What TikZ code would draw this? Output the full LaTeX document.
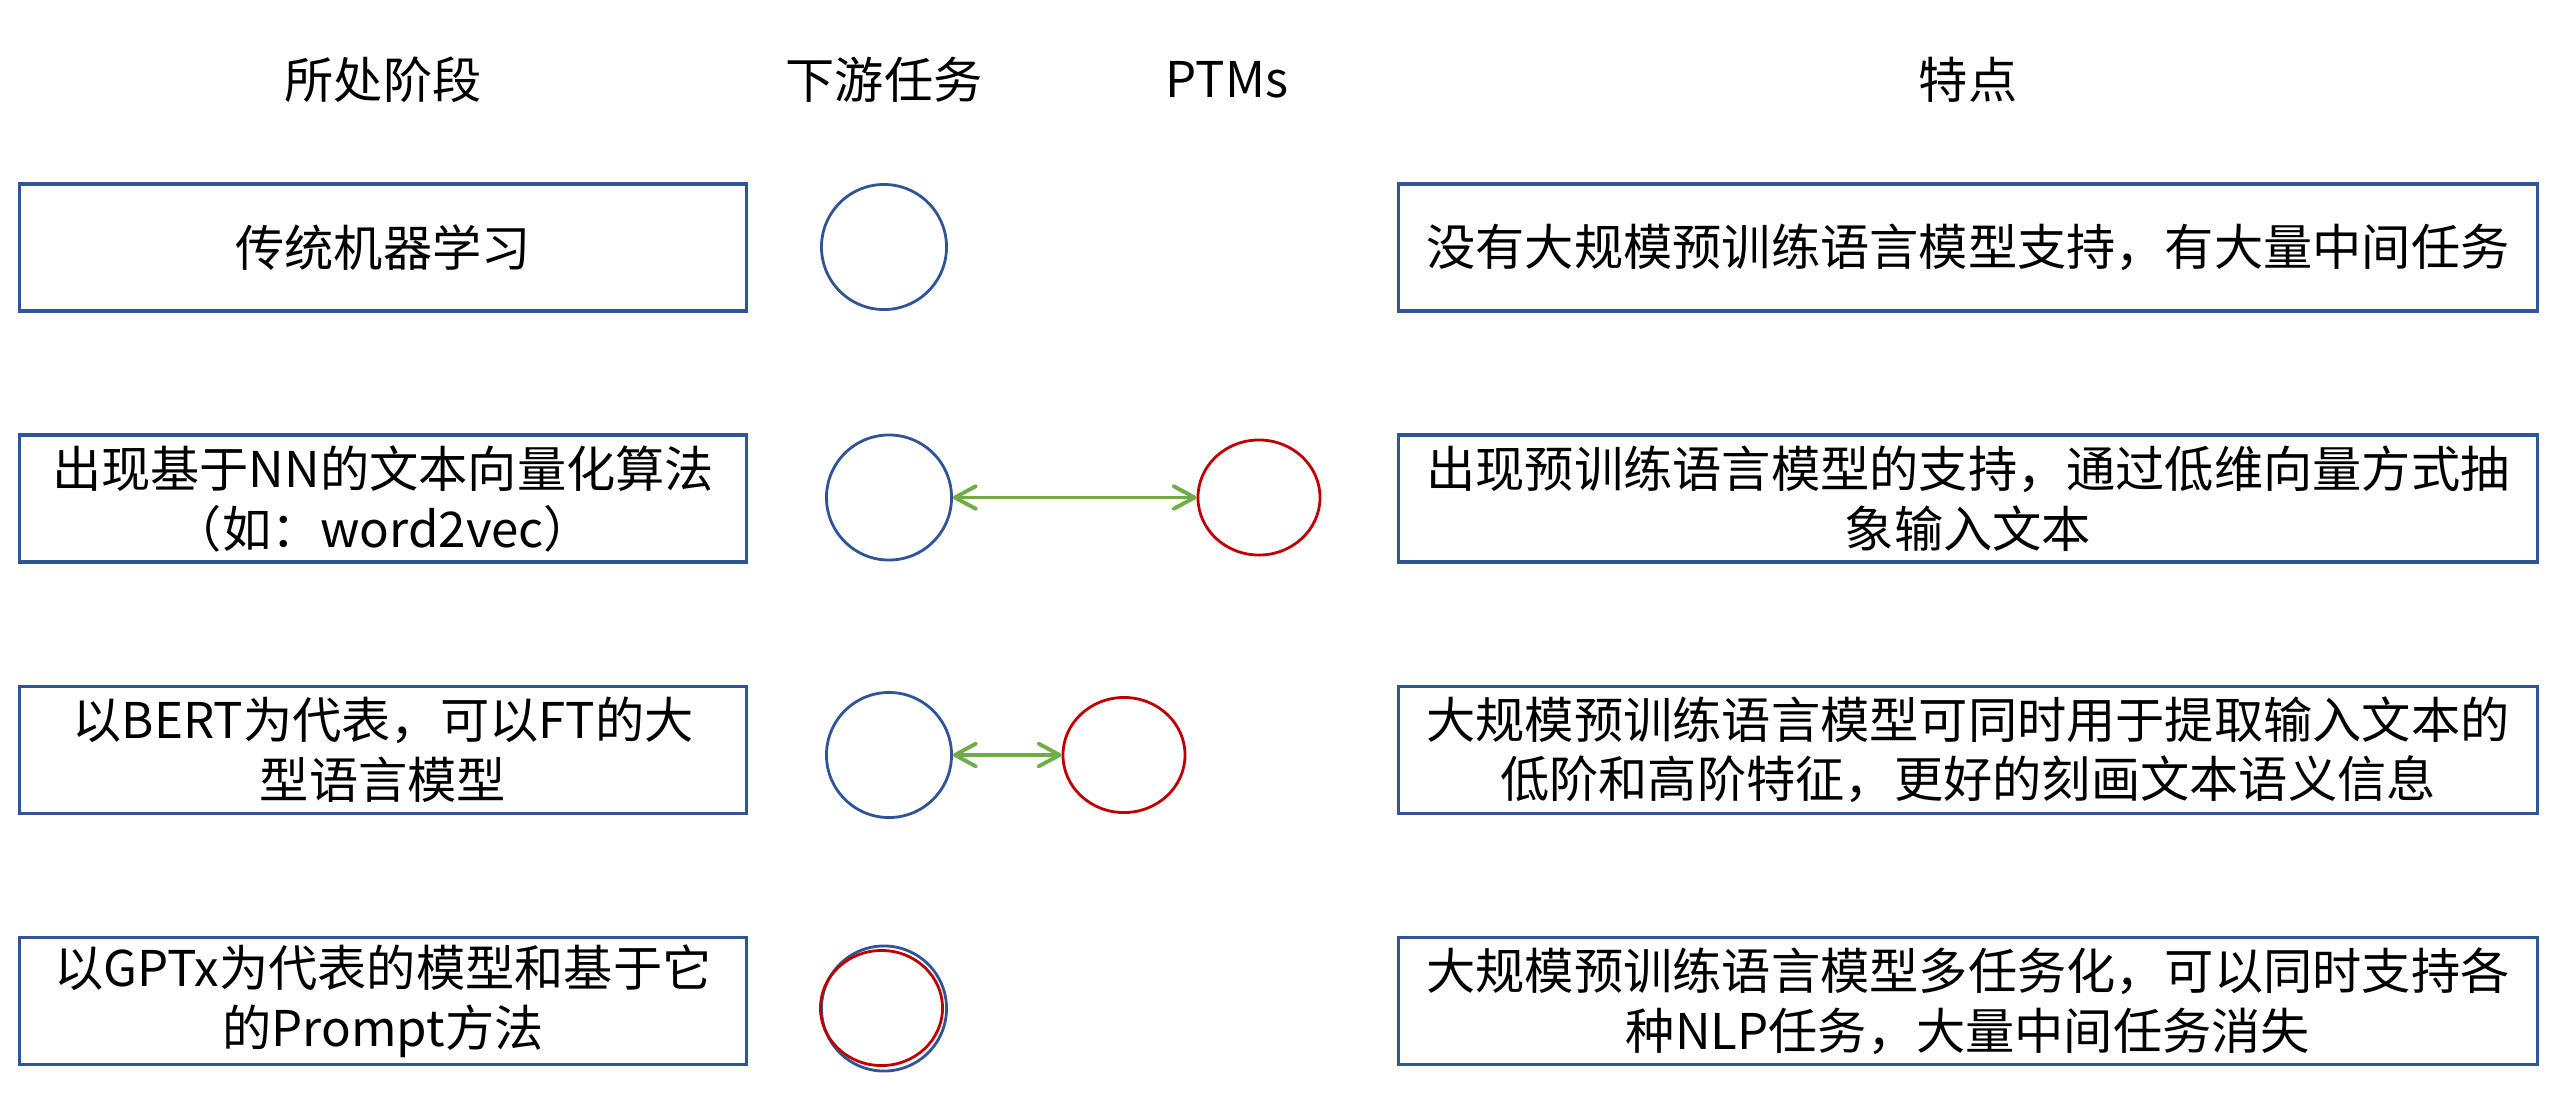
\documentclass[tikz,border=0pt]{standalone}
\usepackage{fontspec}
\setmainfont{Noto Sans CJK SC}
\usetikzlibrary{shapes.geometric, arrows.meta, positioning}
\definecolor{stageblue}{HTML}{2F5597}
\definecolor{ptmred}{HTML}{C00000}
\definecolor{linkgreen}{HTML}{70AD47}

\begin{document}
\begin{tikzpicture}[x=0.01cm, y=-0.01cm, node distance=2.51cm,
  every node/.style={font=\fontsize{14pt}{17pt}\selectfont},
  stagebox/.style={draw=stageblue, line width=1pt, minimum width=7.27cm, minimum height=1.27cm, align=center, inner sep=0pt},
  featbox/.style={stagebox, minimum width=11.38cm},
  task/.style={draw=stageblue, line width=0.8pt, circle, minimum size=1.25cm, inner sep=0pt},
  ptm/.style={draw=ptmred, line width=0.8pt, ellipse, minimum width=1.22cm, minimum height=1.15cm, inner sep=0pt},
  link/.style={linkgreen, line width=1.1pt, {Straight Barb[length=6pt,width=6.5pt,round]}-{Straight Barb[length=6pt,width=6.5pt,round]}}]
  \useasboundingbox (0,0) rectangle (2556,1096);

  % column heads
  \node (hstage) at (383,80) {所处阶段};
  \node (htask) at (884,80) {下游任务};
  \node (hptm) at (1227,80) {PTMs};
  \node (hfeat) at (1968,80) {特点};

  % stages
  \node[stagebox] (stage1) at (383,247.5) {传统机器学习};
  \node[stagebox, below of=stage1] (stage2) {出现基于NN的文本向量化算法\\（如：word2vec）};
  \node[stagebox, below of=stage2] (stage3) {以BERT为代表，可以FT的大\\型语言模型};
  \node[stagebox, below of=stage3] (stage4) {以GPTx为代表的模型和基于它\\的Prompt方法};

  % features
  \node[featbox] (feat1) at (1968,247.5) {没有大规模预训练语言模型支持，有大量中间任务};
  \node[featbox, below of=feat1] (feat2) {出现预训练语言模型的支持，通过低维向量方式抽\\象输入文本};
  \node[featbox, below of=feat2] (feat3) {大规模预训练语言模型可同时用于提取输入文本的\\低阶和高阶特征，更好的刻画文本语义信息};
  \node[featbox, below of=feat3] (feat4) {大规模预训练语言模型多任务化，可以同时支持各\\种NLP任务，大量中间任务消失};

  % downstream tasks and PTMs
  \node[task] (task1) at (884,247) {};
  \node[task] (task2) at (889,497.5) {};
  \node[task] (task3) at (889,755) {};
  \node[task] (task4) at (884,1008.5) {};
  \node[ptm] (ptm2) at (1259,497.5) {};
  \node[ptm] (ptm3) at (1124,755) {};
  \node[ptm] (ptm4) at (881.5,1008) {};

  \draw[link] (task2) -- (ptm2);
  \draw[link] (task3) -- (ptm3);
\end{tikzpicture}
\end{document}
